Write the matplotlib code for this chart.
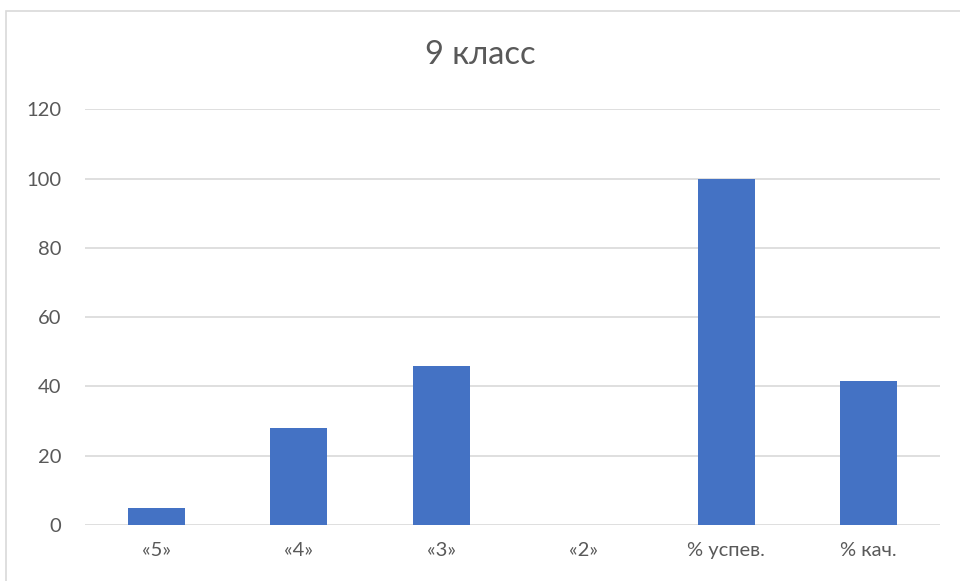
import matplotlib
matplotlib.use("Agg")
import matplotlib.pyplot as plt
from matplotlib.patches import Rectangle

categories = ["«5»", "«4»", "«3»", "«2»", "% успев.", "% кач."]
values = [5, 28, 46, 0, 100, 41.7]
yticks = [0, 20, 40, 60, 80, 100, 120]
title = "9 класс"

plt.rcParams['font.family'] = ['Lato', 'DejaVu Sans']
W, H = 960, 581
fig = plt.figure(figsize=(W / 100, H / 100), dpi=100)
fig.patch.set_facecolor("white")

# outer chart border
fig.patches.append(Rectangle((6 / W, -0.1), 1.2, 1 - 11 / H + 0.1, transform=fig.transFigure,
                             fill=False, edgecolor="#d9d9d9", linewidth=1.2))

ax = fig.add_axes([85 / W, 1 - 525 / H, (940 - 85) / W, (525 - 109.3) / H])
x = list(range(len(categories)))
ax.bar(x, values, width=0.4, color="#4472C4", zorder=3)
ax.set_xlim(-0.5, len(categories) - 0.5)
ax.set_ylim(0, 120)
ax.set_yticks(yticks)
ax.set_yticklabels([str(t) for t in yticks])
ax.set_xticks(x)
ax.set_xticklabels(categories)
ax.grid(axis="y", color="#d9d9d9", linewidth=1.2, zorder=0)
for s in ax.spines.values():
    s.set_visible(False)
ax.tick_params(axis="both", length=0, colors="#595959", labelsize=14.5)
ax.tick_params(axis="y", pad=17)
ax.tick_params(axis="x", pad=12)
fig.text(0.5, 1 - 55 / H, title, ha="center", va="center", fontsize=23.5, color="#595959")

fig.savefig("out.png", dpi=100)
